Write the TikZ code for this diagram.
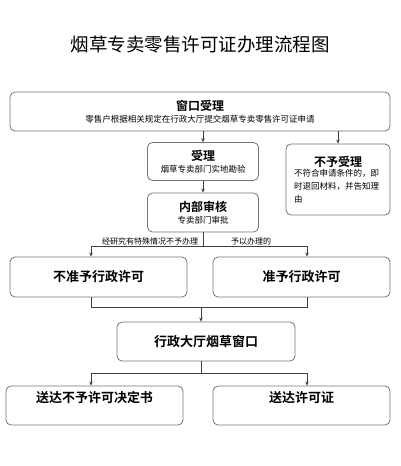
\documentclass[tikz,border=0pt]{standalone}
\usepackage{fontspec}
\setmainfont{Noto Sans CJK SC}[BoldFont={Noto Sans CJK SC Bold}]
\usetikzlibrary{arrows.meta,positioning}
\tikzset{
  stepbox/.style={draw=black!55, line width=0.8pt, rectangle, rounded corners=5pt, inner sep=0pt, align=center, fill=none},
  smallbox/.style={stepbox, minimum width=111pt, minimum height=38pt},
  widebox/.style={stepbox, minimum width=177pt, minimum height=40pt, font=\fontsize{13}{15}\selectfont\bfseries},
  wire/.style={line width=0.6pt, draw=black!75},
  signal/.style={wire, -{Stealth[length=4pt,width=3.5pt]}},
  note/.style={font=\fontsize{8}{9}\selectfont, inner sep=1pt, anchor=south}
}

\begin{document}
\begin{tikzpicture}[x=1pt, y=-1pt]
  \useasboundingbox (0,0) rectangle (400,466);
  \node[font=\fontsize{18.5}{20}\selectfont] (title) at (200,45) {烟草专卖零售许可证办理流程图};

  \node[stepbox, minimum width=380pt, minimum height=39pt] (win) at (200,111.5)
    {{\fontsize{12}{14}\selectfont\bfseries 窗口受理}\\[0pt]{\fontsize{8.5}{10}\selectfont 零售户根据相关规定在行政大厅提交烟草专卖零售许可证申请}};
  \node[smallbox] (acc) at (203,161.5)
    {{\fontsize{12}{14}\selectfont\bfseries 受理}\\[0pt]{\fontsize{8.5}{10}\selectfont 烟草专卖部门实地勘验}};
  \node[stepbox, minimum width=104pt, minimum height=71pt, text width=88pt, align=left] (rej) at (338,179.5)
    {{\centering\fontsize{12}{14}\selectfont\bfseries 不予受理\par}\vspace{-3pt}
     {\fontsize{8.5}{13}\selectfont 不符合申请条件的，即\\时退回材料，并告知理\\由\par}};
  \node[smallbox, minimum height=39pt] (rev) at (203,212.5)
    {{\fontsize{12}{14}\selectfont\bfseries 内部审核}\\[0pt]{\fontsize{8.5}{10}\selectfont 专卖部门审批}};

  \node[widebox] (no) at (98.5,277) {不准予行政许可};
  \node[widebox] (yes) at (301.5,277) {准予行政许可};
  \node[widebox, minimum width=178pt, minimum height=39pt] (hall) at (206,341.5) {行政大厅烟草窗口};
  \node[widebox, minimum height=39pt, text depth=17pt] (deny) at (94.5,405.5) {送达不予许可决定书};
  \node[widebox, minimum height=39pt, text depth=17pt] (give) at (301.5,405.5) {送达许可证};

  % branch points
  \coordinate (t1) at (203,246);
  \coordinate (l1) at (91,246);
  \coordinate (r1) at (307,246);
  \coordinate (l2) at (91,307);
  \coordinate (r2) at (307,307);
  \coordinate (t2) at (201,307);
  \coordinate (t3) at (201,373);
  \coordinate (l3) at (91,373);
  \coordinate (r3) at (307,373);

  \draw[signal] (win.south -| acc.north) -- (acc.north);
  \draw[signal] (win.south -| rej.north) -- (rej.north);
  \draw[signal] (acc) -- (rev);
  \draw[wire] (rev.south) -- (t1);
  \draw[wire] (l1) -- (r1);
  \draw[signal] (l1) -- (l1 |- no.north);
  \draw[signal] (r1) -- (r1 |- yes.north);
  \node[note] (lbno) at (150,246) {经研究有特殊情况不予办理};
  \node[note] (lbyes) at (251,246) {予以办理的};

  \draw[wire] (l1 |- no.south) -- (l2) -- (r2) -- (r1 |- yes.south);
  \draw[signal] (t2) -- (t2 |- hall.north);
  \draw[wire] (hall.south -| t3) -- (t3);
  \draw[wire] (l3) -- (r3);
  \draw[signal] (l3) -- (l3 |- deny.north);
  \draw[signal] (r3) -- (r3 |- give.north);
\end{tikzpicture}
\end{document}
